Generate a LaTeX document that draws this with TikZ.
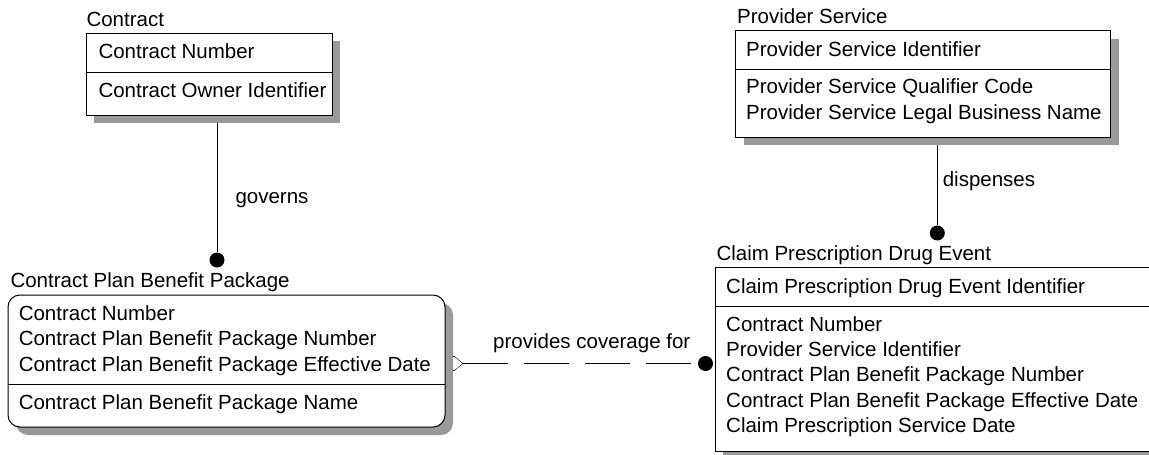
\documentclass[tikz,border=0pt]{standalone}
\usepackage{fontspec}
\setmainfont{Liberation Sans}
\usetikzlibrary{shapes.geometric, shadows, backgrounds}

\begin{document}
\begin{tikzpicture}[x=1pt, y=-1pt, line width=1pt,
    font=\fontsize{20.5}{24}\selectfont,
    entity/.style={draw, fill=white, inner sep=0pt, outer sep=0pt, anchor=north west,
        drop shadow={shadow xshift=8pt, shadow yshift=-8pt, fill=black!40, opacity=1}},
    attr/.style={anchor=base west, inner sep=0pt},
    dot/.style={circle, fill=black, inner sep=0pt, minimum size=15pt}]
    \useasboundingbox (0,0) rectangle (1149,455);
    \clip (0,0) rectangle (1149,455);

    % Contract
    \node[attr] (contract-title) at (86,27) {Contract};
    \node[entity, minimum width=246pt, minimum height=82pt] (contract) at (86,33) {};
    \draw (contract.west |- 0,72) -- (contract.east |- 0,72);
    \node[attr] (contract-1) at (98,58.5) {Contract Number};
    \node[attr] (contract-2) at (98,97) {Contract Owner Identifier};

    % Contract Plan Benefit Package
    \node[attr] (cpbp-title) at (10,287) {Contract Plan Benefit Package};
    \node[entity, rounded corners=12pt, minimum width=437pt, minimum height=132pt] (cpbp) at (8,295) {};
    \draw (cpbp.west |- 0,384) -- (cpbp.east |- 0,384);
    \foreach \txt [count=\i] in {Contract Number, Contract Plan Benefit Package Number,
        Contract Plan Benefit Package Effective Date} {
        \node[attr] (cpbp-\i) at (18.3,{320.5+25.4*(\i-1)}) {\txt};
    }
    \node[attr] (cpbp-4) at (18.3,409) {Contract Plan Benefit Package Name};

    % Provider Service
    \node[attr] (provider-title) at (736.7,23.5) {Provider Service};
    \node[entity, minimum width=375pt, minimum height=106.6pt] (provider) at (735.7,30.7) {};
    \draw (provider.west |- 0,69.3) -- (provider.east |- 0,69.3);
    \node[attr] (provider-1) at (745.7,56) {Provider Service Identifier};
    \node[attr] (provider-2) at (745.7,93.5) {Provider Service Qualifier Code};
    \node[attr] (provider-3) at (745.7,119.3) {Provider Service Legal Business Name};

    % Claim Prescription Drug Event
    \node[attr] (claim-title) at (716,260) {Claim Prescription Drug Event};
    \node[entity, minimum width=460pt, minimum height=183.5pt] (claim) at (715,267.5) {};
    \draw (claim.west |- 0,306) -- (claim.east |- 0,306);
    \node[attr] (claim-0) at (725.7,293) {Claim Prescription Drug Event Identifier};
    \foreach \txt [count=\i] in {Contract Number, Provider Service Identifier,
        Contract Plan Benefit Package Number, Contract Plan Benefit Package Effective Date,
        Claim Prescription Service Date} {
        \node[attr] (claim-\i) at (725.7,{331.3+25.3*(\i-1)}) {\txt};
    }

    % Relationship ends
    \node[dot] (govdot) at (217,260) {};
    \node[dot] (dsdot) at (937.3,233) {};
    \node[dot] (pcdot) at (705.5,363.5) {};

    % Relationship lines
    \begin{scope}[on background layer]
        \draw (govdot) -- (govdot |- contract.south);
        \draw (dsdot) -- (dsdot |- provider.south);
        \node[diamond, draw, fill=white, inner sep=0pt, minimum width=18pt, minimum height=15pt] (cov) at (454,363.5) {};
        \draw[dash pattern=on 45pt off 16pt] (cov.east) -- (pcdot.west);
    \end{scope}

    % Relationship labels
    \node[attr] (governs) at (235,203.5) {governs};
    \node[attr] (dispenses) at (942.3,186) {dispenses};
    \node[attr] (covers) at (492.7,348.5) {provides coverage for};
\end{tikzpicture}
\end{document}
